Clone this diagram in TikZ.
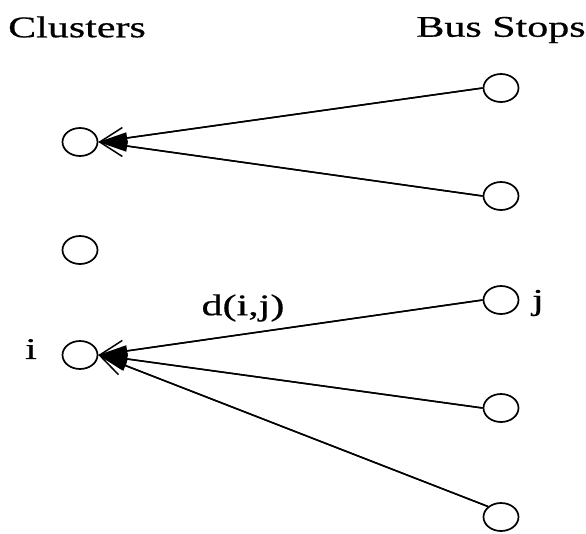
\documentclass[tikz,border=0pt]{standalone}
\usepackage{fontspec}
\setmainfont{Liberation Serif}
\newfontfamily\heavyserif[FakeBold=0.5]{Liberation Serif}
\usetikzlibrary{arrows.meta,shapes.geometric}
\begin{document}
\begin{tikzpicture}[x=1pt,y=-1pt,
  site/.style={draw,ellipse,line width=1.7pt,minimum width=35pt,minimum height=28pt,inner sep=0pt},
  link/.style={line width=1.5pt,-{Straight Barb[length=24pt,width=22pt]},
    postaction={draw,line width=1.5pt,-{Triangle[length=29pt,width=11pt]}}},
  lbl/.style={inner sep=0pt,font=\heavyserif\fontsize{30}{36}\selectfont}]
\useasboundingbox (0,0) rectangle (586,533);
% column headings
\node[lbl] (hc) at (77,27) {\scalebox{1.4}[1]{Clusters}};
\node[lbl] (hb) at (501,30) {\scalebox{1.4}[1]{Bus Stops}};
% clusters
\node[site] (c1) at (80,142) {};
\node[site] (c2) at (80,250) {};
\node[site] (c3) at (80,355) {};
% bus stops
\node[site] (s1) at (501,88) {};
\node[site] (s2) at (501,196) {};
\node[site] (s3) at (501,300) {};
\node[site] (s4) at (501,408) {};
\node[site] (s5) at (501,517) {};
% labels
\node[lbl] (li) at (31,349) {\scalebox{1.4}[1]{i}};
\node[lbl] (lj) at (538,303) {\scalebox{1.4}[1]{j}};
\node[lbl] (ld) at (243,308) {\scalebox{1.4}[1]{d(i,j)}};
% assignments of stops to clusters
\draw[link] (s1.west) -- (c1.east);
\draw[link] (s2.west) -- (c1.east);
\draw[link] (s3.west) -- (c3.east);
\draw[link] (s4.west) -- (c3.east);
\draw[link] (s5.north west) -- (c3.east);
\end{tikzpicture}
\end{document}
